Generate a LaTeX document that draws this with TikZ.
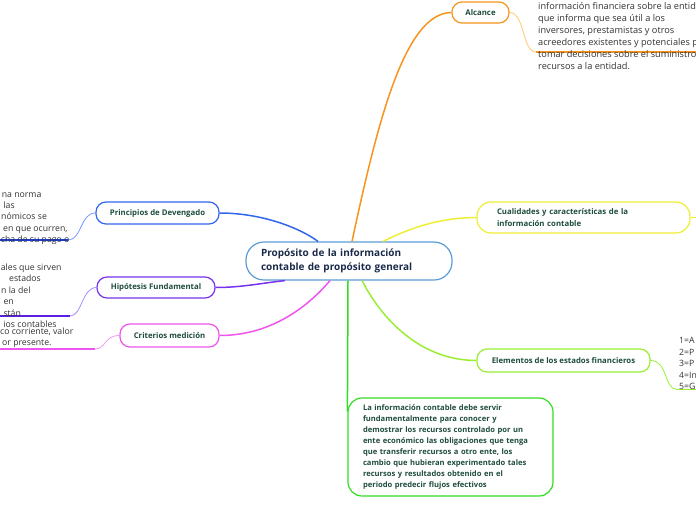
\documentclass[tikz,border=0pt]{standalone}
\usepackage{fontspec}
\setmainfont{Open Sans}
\usetikzlibrary{calc}
\definecolor{corange}{HTML}{F7941D}
\definecolor{lorange}{HTML}{FFC870}
\definecolor{cyellow}{HTML}{EEEE33}
\definecolor{clime}{HTML}{99EE33}
\definecolor{cgreen}{HTML}{33DD22}
\definecolor{cblue}{HTML}{3366EE}
\definecolor{lblue}{HTML}{7799FF}
\definecolor{dblue}{HTML}{1A3DE0}
\definecolor{cpurple}{HTML}{7733EE}
\definecolor{lpurple}{HTML}{AA88FF}
\definecolor{dpurple}{HTML}{5A1FE0}
\definecolor{cmagenta}{HTML}{EE55EE}
\definecolor{lmagenta}{HTML}{F59AF5}
\definecolor{cborder}{HTML}{5B9BD5}
\definecolor{nodegreen}{HTML}{1E4D3A}
\definecolor{navy}{HTML}{1B2A4A}
\definecolor{leafgray}{HTML}{333333}
\begin{document}
\begin{tikzpicture}[x=1pt,y=-1pt,
  topic/.style={draw, line width=1.2pt, rounded corners=10pt, fill=white,
    font=\bfseries\fontsize{7.8}{10}\selectfont, text=nodegreen, inner sep=0pt, align=center},
  leaf/.style={anchor=base west, inner sep=0pt, font=\fontsize{8.7}{10}\selectfont, text=leafgray},
  bigleaf/.style={leaf, font=\fontsize{9.2}{10}\selectfont},
  mainline/.style={line width=1.5pt},
  subline/.style={line width=0.8pt},
  underline/.style={line width=1.8pt}]
\useasboundingbox (0,0) rectangle (696,520);
\clip (0,0) rectangle (696,520);

% central
\node[draw=cborder, line width=1.2pt, rounded corners=18pt, minimum width=206pt, minimum height=38pt,
  text width=176pt, align=left, inner sep=0pt, font=\bfseries\fontsize{10}{14}\selectfont, text=navy]
  (c) at (349,261) {Propósito de la información\\contable de propósito general};

% topics
\node[topic, draw=corange, minimum width=57pt, minimum height=21pt] (alc) at (480.5,12.5) {Alcance};
\node[topic, draw=cyellow, minimum width=213pt, minimum height=31pt, text width=173pt, align=left,
  font=\bfseries\fontsize{7.8}{11.5}\selectfont, rounded corners=14pt] (cual) at (583.5,217.5)
  {Cualidades y características de la\\información contable};
\node[topic, draw=clime, minimum width=173pt, minimum height=23pt] (ele) at (563.5,360.5) {Elementos de los estados financieros};
\node[topic, draw=cgreen, minimum width=205pt, minimum height=98pt, text width=175pt, align=left,
  font=\bfseries\fontsize{7.6}{10.9}\selectfont, rounded corners=14pt] (gb) at (450.5,447)
  {La información contable debe servir\\
   fundamentalmente para conocer y\\
   demostrar los recursos controlado por un\\
   ente  económico las obligaciones que tenga\\
   que transferir recursos  a otro ente, los\\
   cambio que hubieran experimentado tales\\
   recursos y resultados obtenido en el\\
   periodo predecir flujos efectivos};
\node[topic, draw=cblue, minimum width=123pt, minimum height=22pt] (prin) at (157.5,213) {Principios de Devengado};
\node[topic, draw=cpurple, minimum width=118pt, minimum height=21pt] (hip) at (156,287.5) {Hipótesis Fundamental};
\node[topic, draw=cmagenta, minimum width=99pt, minimum height=23pt] (cri) at (169.5,335.5) {Criterios medición};

% main connectors
\draw[mainline, corange] ([xshift=3pt]c.north) .. controls (378,120) and (405,13) .. (alc.west);
\draw[mainline, cyellow] ([xshift=34pt]c.north) .. controls (410,228) and (440,217.5) .. (cual.west);
\draw[mainline, cblue] ([xshift=-31pt]c.north) .. controls (300,228) and (262,213) .. (prin.east);
\draw[mainline, cpurple] ([xshift=-64pt]c.south) .. controls (262,283) and (242,287.5) .. (hip.east);
\draw[mainline, cmagenta] ([xshift=-19pt]c.south) .. controls (305,310) and (268,335.5) .. (cri.east);
\draw[mainline, cgreen] ([xshift=-1pt]c.south) -- ($(gb.north west)+(0,14)$);
\draw[mainline, clime] ([xshift=13pt]c.south) .. controls (385,325) and (425,360.5) .. (ele.west);

% sub connectors
\coordinate (alcU) at (536,52);
\coordinate (alcE) at (700,52);
\draw[subline, lorange] (alc.east) .. controls (525,12.5) and (522,52) .. (alcU);
\draw[underline, corange] (alcU) -- (alcE);
\coordinate (prinU) at (68,240);
\coordinate (prinE) at (-5,240);
\draw[subline, lblue] (prin.west) .. controls (80,213) and (82,240) .. (prinU);
\draw[underline, dblue] (prinU) -- (prinE);
\coordinate (hipU) at (70,316);
\coordinate (hipE) at (-5,316);
\draw[subline, lpurple] (hip.west) .. controls (82,287.5) and (82,316) .. (hipU);
\draw[underline, dpurple] (hipU) -- (hipE);
\coordinate (criU) at (95,349);
\coordinate (criE) at (-5,349);
\draw[subline, lmagenta] (cri.west) .. controls (104,335.5) and (106,349) .. (criU);
\draw[underline, cmagenta] (criU) -- (criE);
\coordinate (eleU) at (677,389.5);
\coordinate (eleE) at (700,389.5);
\draw[subline, clime] (ele.east) .. controls (668,360.5) and (664,389.5) .. (eleU);
\draw[underline, clime] (eleU) -- (eleE);
\coordinate (cualE) at (700,217.5);
\draw[mainline, cyellow] (cual.east) -- (cualE);

% leaf texts: Alcance
\foreach \i/\yy/\t in {1/9.7/{información financiera sobre la entidad},
  2/21.6/{que informa que sea útil a los},
  3/33.8/{inversores, prestamistas y otros},
  4/45.8/{acreedores existentes y potenciales para},
  5/57.7/{tomar decisiones sobre el suministro de},
  6/69.8/{recursos a la entidad.}}
  \node[bigleaf] (a\i) at (538,\yy) {\t};

% leaf texts: Principios
\foreach \i/\xx/\yy/\t in {1/1.7/197/{na norma},
  2/3.3/208.3/{las},
  3/1/219.6/{nómicos se},
  4/3/231/{en que ocurren,},
  5/0.7/242.3/{cha de su pago o}}
  \node[leaf] (p\i) at (\xx,\yy) {\t};

% leaf texts: Hipotesis
\foreach \i/\xx/\yy/\t in {1/0.7/270/{ales que sirven},
  2/9/281.5/{estados},
  3/1/293/{n la del},
  4/3.3/304.5/{en},
  5/3.3/316/{stán},
  6/3.3/327.5/{ios contables}}
  \node[leaf] (h\i) at (\xx,\yy) {\t};

% leaf texts: Criterios
\foreach \i/\xx/\yy/\t in {1/0/334/{co corriente, valor},
  2/2/345.5/{or presente.}}
  \node[leaf] (r\i) at (\xx,\yy) {\t};

% leaf texts: Elementos
\foreach \i/\yy/\t in {1/343/{1=A},2/355/{2=P},3/366.5/{3=P},4/378/{4=In},5/389.7/{5=G}}
  \node[leaf] (e\i) at (679,\yy) {\t};
\end{tikzpicture}
\end{document}
